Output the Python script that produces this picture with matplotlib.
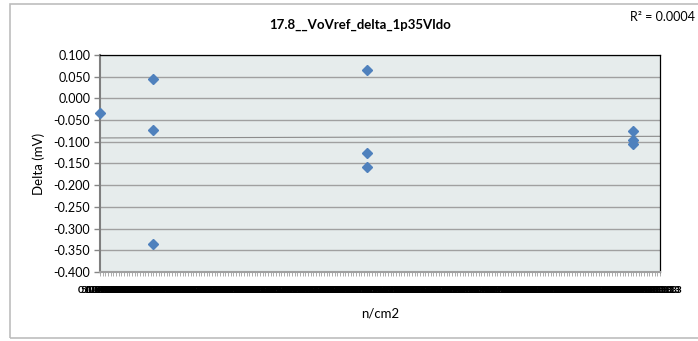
import matplotlib
matplotlib.use("Agg")
import matplotlib.pyplot as plt
import matplotlib.patches as patches
import numpy as np

# fluence (n/cm2) and measured delta (mV)
fluence = [0, 1e12, 1e12, 1e12, 5e12, 5e12, 5e12, 1e13, 1e13, 1e13]
delta = [-0.033, 0.045, -0.073, -0.336, 0.065, -0.126, -0.158, -0.075, -0.097, -0.106]

title = "17.8__VoVref_delta_1p35Vldo"
r2_label = "R\u00b2 = 0.0004"
y_ticks = [0.100, 0.050, 0.000, -0.050, -0.100, -0.150, -0.200, -0.250, -0.300, -0.350, -0.400]
x_max = 1.05e13
x_step = 5e10

plt.rcParams["font.family"] = ["Lato", "DejaVu Sans"]

fig = plt.figure(figsize=(6.98, 3.41), dpi=100)
W, H = 698, 341

# outer chart border (open on the right, like the reference)
fig.patches.append(patches.Rectangle((10 / W, 3 / H), 700 / W, 334 / H,
                                     transform=fig.transFigure, fill=False,
                                     edgecolor="#BDBDBD", linewidth=1.2))

ax = fig.add_axes([100 / W, (H - 272) / H, 560 / W, 217 / H])
ax.set_facecolor("#E6ECEC")

ax.set_ylim(-0.4, 0.1)
ax.set_yticks(y_ticks)
ax.set_yticklabels([f"{v:.3f}" for v in y_ticks], fontsize=9)
ax.yaxis.grid(True, color="#A0A0A0", linewidth=1.0)
ax.set_axisbelow(True)

# crowded scientific-format x ticks, as in the original (they overlap there too)
xt = np.arange(0, x_max + x_step / 2, x_step)
ax.set_xlim(0, x_max)
ax.set_xticks(xt)
ax.set_xticklabels([f"{v:.2E}" for v in xt], fontsize=7.5, fontweight="bold")
ax.tick_params(axis="x", length=3, color="#A0A0A0", width=0.6, pad=7)
ax.tick_params(axis="y", length=4, color="#868686", width=1, pad=3)

for s in ["top", "right"]:
    ax.spines[s].set_color("#000000")
    ax.spines[s].set_linewidth(0.9)
ax.spines["left"].set_color("#7F7F7F")
ax.spines["left"].set_linewidth(1.5)
ax.spines["bottom"].set_color("#A0A0A0")
ax.spines["bottom"].set_linewidth(1.5)

# linear trend line
coef = np.polyfit(fluence, delta, 1)
tx = np.array([0, x_max])
ax.plot(tx, np.polyval(coef, tx), color="#8C8C8C", linewidth=0.8, zorder=2)

ax.plot(fluence, delta, linestyle="none", marker="D", markersize=5.6,
        color="#4F81BD", markeredgecolor="#4F81BD", clip_on=False, zorder=3)

ax.set_ylabel("Delta (mV)", fontsize=9.5, labelpad=6)
ax.set_xlabel("n/cm2", fontsize=9.5, labelpad=9)

fig.text(360 / W, 1 - 25 / H, title, ha="center", va="center",
         fontsize=9.5, fontweight="bold")
fig.text(695 / W, 1 - 17 / H, r2_label, ha="right", va="center", fontsize=9)

fig.savefig("out.png", dpi=100)
